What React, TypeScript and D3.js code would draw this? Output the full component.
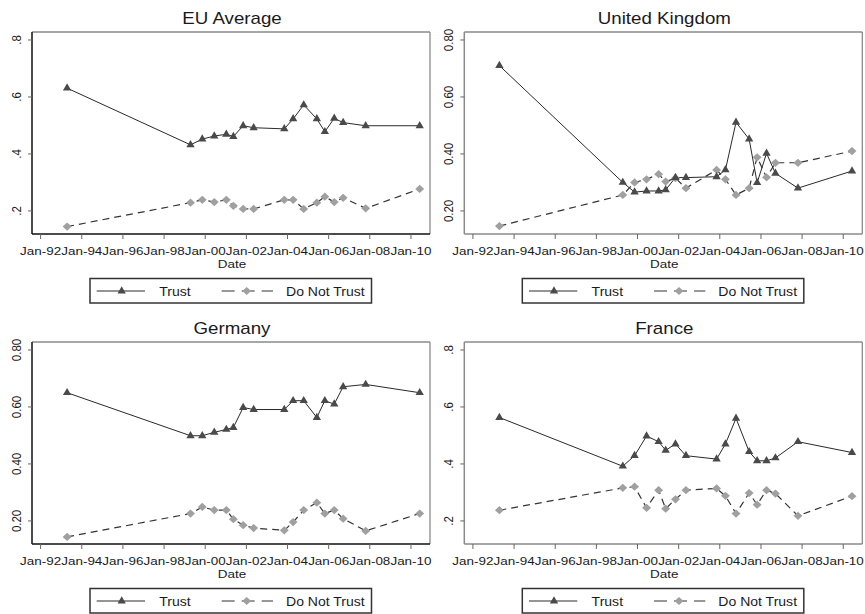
import React from "react";
import * as d3 from "d3";

// Survey wave dates (Eurobarometer)
const DATES = [
  "1993-04-15", "1999-04-15", "1999-11-10", "2000-06-10", "2001-01-10", "2001-05-15",
  "2001-11-05", "2002-05-10", "2003-11-05", "2004-04-10", "2004-10-15", "2005-06-05",
  "2005-10-25", "2006-04-10", "2006-09-15", "2007-10-20", "2010-06-05",
];

const EU_TRUST = [0.631, 0.432, 0.452, 0.463, 0.469, 0.461, 0.499, 0.492, 0.488, 0.523, 0.572, 0.523, 0.478, 0.525, 0.51, 0.499, 0.499];
const EU_DNT = [0.145, 0.229, 0.239, 0.231, 0.239, 0.218, 0.207, 0.207, 0.239, 0.239, 0.207, 0.229, 0.25, 0.231, 0.246, 0.209, 0.277];

const UK_TRUST = [0.71, 0.3, 0.266, 0.27, 0.27, 0.274, 0.317, 0.317, 0.32, 0.344, 0.511, 0.452, 0.299, 0.402, 0.332, 0.28, 0.34];
const UK_DNT = [0.147, 0.256, 0.3, 0.311, 0.329, 0.303, 0.315, 0.28, 0.344, 0.311, 0.256, 0.28, 0.388, 0.318, 0.369, 0.369, 0.41];

const DE_TRUST = [0.65, 0.499, 0.499, 0.511, 0.521, 0.528, 0.598, 0.591, 0.591, 0.622, 0.622, 0.563, 0.622, 0.61, 0.671, 0.679, 0.65];
const DE_DNT = [0.144, 0.226, 0.249, 0.238, 0.238, 0.206, 0.185, 0.175, 0.167, 0.196, 0.238, 0.264, 0.226, 0.238, 0.208, 0.165, 0.226];

const FR_TRUST = [0.563, 0.392, 0.429, 0.498, 0.478, 0.448, 0.47, 0.429, 0.417, 0.47, 0.56, 0.443, 0.411, 0.411, 0.421, 0.478, 0.44];
const FR_DNT = [0.2375, 0.316, 0.32, 0.246, 0.308, 0.243, 0.276, 0.308, 0.314, 0.288, 0.226, 0.298, 0.257, 0.308, 0.296, 0.218, 0.287];

const TITLES = ["EU Average", "United Kingdom", "Germany", "France"];
const Y_TICKS = [0.2, 0.4, 0.6, 0.8];
const X_TICK_YEARS = [1992, 1994, 1996, 1998, 2000, 2002, 2004, 2006, 2008, 2010];
const X_TICK_LABELS = ["Jan-92", "Jan-94", "Jan-96", "Jan-98", "Jan-00", "Jan-02", "Jan-04", "Jan-06", "Jan-08", "Jan-10"];
const SERIES_NAMES = ["Trust", "Do Not Trust"];
const X_TITLE = "Date";

const S = 1.17; // horizontal text stretch of the original raster
const FONT = "'Liberation Sans', Arial, Helvetica, sans-serif";

const PANELS = [
  { title: TITLES[0], trust: EU_TRUST, dnt: EU_DNT, fmt: d3.format(".1f"), strip: true, darkAxis: true, ox: 0, oy: 0 },
  { title: TITLES[1], trust: UK_TRUST, dnt: UK_DNT, fmt: d3.format(".2f"), strip: false, darkAxis: false, ox: 432.3, oy: 0 },
  { title: TITLES[2], trust: DE_TRUST, dnt: DE_DNT, fmt: d3.format(".2f"), strip: false, darkAxis: true, ox: 0, oy: 310 },
  { title: TITLES[3], trust: FR_TRUST, dnt: FR_DNT, fmt: d3.format(".1f"), strip: true, darkAxis: false, ox: 432.3, oy: 310 },
];

const L = 32, R = 430, T = 32, B = 234;

const parse = d3.timeParse("%Y-%m-%d");
const dates = DATES.map((d) => parse(d) as Date);

const x = d3.scaleTime().domain([new Date(1991, 7, 1), new Date(2010, 11, 5)]).range([L, R]);
const y = d3.scaleLinear().domain([0.119, 0.828]).range([B, T]);

const triPath = d3.symbol(d3.symbolTriangle, 30)() as string;
const sqPath = d3.symbol(d3.symbolSquare, 34)() as string;

function Stext({ x: tx, y: ty, anchor = "middle", size = 11.5, children }: any) {
  return (
    <text transform={`translate(${tx},${ty}) scale(${S},1)`} textAnchor={anchor} fontSize={size} fontFamily={FONT} fill="#1a1a1a">
      {children}
    </text>
  );
}

function Panel({ p }: any) {
  const line = d3.line<number>().x((_, i) => x(dates[i])).y((v) => y(v));
  const axisCol = p.darkAxis ? "#111" : "#8a8a8a";
  const fmtY = (v: number) => {
    const s = p.fmt(v);
    return p.strip ? s.replace(/^0/, "") : s;
  };
  return (
    <g transform={`translate(${p.ox},${p.oy})`}>
      <Stext x={232} y={23.5} size={16}>{p.title}</Stext>
      {/* frame */}
      <line x1={L} x2={R} y1={T} y2={T} stroke="#8a8a8a" strokeWidth={1.3} />
      <line x1={R} x2={R} y1={T} y2={B} stroke="#8a8a8a" strokeWidth={1.3} />
      <line x1={L} x2={L} y1={T} y2={B} stroke={axisCol} strokeWidth={1.5} />
      <line x1={L} x2={R} y1={B} y2={B} stroke={axisCol} strokeWidth={1.5} />
      {/* y ticks */}
      {Y_TICKS.map((t) => (
        <g key={t}>
          <line x1={L - 4} x2={L} y1={y(t)} y2={y(t)} stroke="#666" strokeWidth={1} />
          <text transform={`translate(21,${y(t)}) scale(${S},1) rotate(-90)`} textAnchor="middle" fontSize={11.5} fontFamily={FONT} fill="#1a1a1a">
            {fmtY(t)}
          </text>
        </g>
      ))}
      {/* x ticks */}
      {X_TICK_YEARS.map((yr, i) => {
        const xx = x(new Date(yr, 0, 1));
        return (
          <g key={yr}>
            <line x1={xx} x2={xx} y1={B} y2={B + 5} stroke="#666" strokeWidth={1} />
            <Stext x={xx} y={255}>{X_TICK_LABELS[i]}</Stext>
          </g>
        );
      })}
      <Stext x={232} y={268}>{X_TITLE}</Stext>
      {/* series */}
      <path d={line(p.dnt) as string} fill="none" stroke="#333" strokeWidth={1.2} strokeDasharray="7,5" />
      <path d={line(p.trust) as string} fill="none" stroke="#2a2a2a" strokeWidth={1} />
      {p.dnt.map((v: number, i: number) => (
        <path key={"d" + i} d={sqPath} transform={`translate(${x(dates[i])},${y(v)}) scale(1.08,1) rotate(45)`} fill="#a0a0a0" />
      ))}
      {p.trust.map((v: number, i: number) => (
        <path key={"t" + i} d={triPath} transform={`translate(${x(dates[i])},${y(v)})`} fill="#4a4a4a" />
      ))}
      {/* legend */}
      <rect x={90} y={278.5} width={281.5} height={24.5} fill="white" stroke="#333" strokeWidth={1.5} />
      <line x1={96.7} x2={145} y1={291} y2={291} stroke="#2a2a2a" strokeWidth={1} />
      <path d={triPath} transform="translate(121.7,291)" fill="#4a4a4a" />
      <Stext x={159.3} y={296} anchor="start" size={12}>{SERIES_NAMES[0]}</Stext>
      <line x1={221.7} x2={273} y1={291} y2={291} stroke="#333" strokeWidth={1.2} strokeDasharray="13,7" />
      <path d={sqPath} transform="translate(246.7,291) scale(1.08,1) rotate(45)" fill="#a0a0a0" />
      <Stext x={286} y={296} anchor="start" size={12}>{SERIES_NAMES[1]}</Stext>
    </g>
  );
}

export default function App() {
  return (
    <svg width={865} height={614} style={{ position: "absolute", left: 0, top: 0 }}>
      <rect x={0} y={0} width={865} height={614} fill="white" />
      {PANELS.map((p) => (
        <Panel key={p.title} p={p} />
      ))}
    </svg>
  );
}
